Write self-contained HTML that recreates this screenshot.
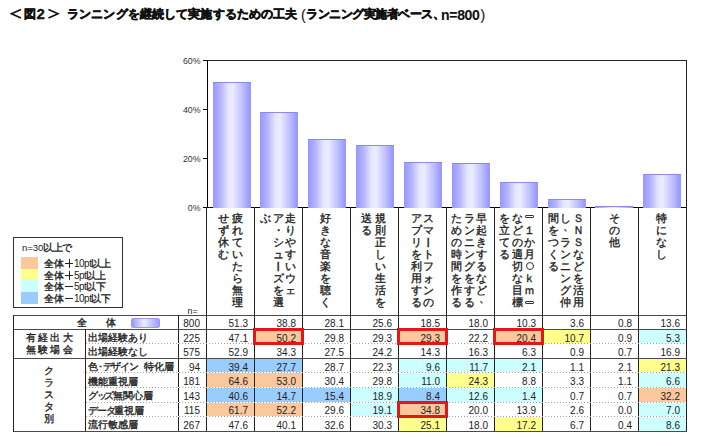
<!DOCTYPE html>
<html><head><meta charset="utf-8">
<style>
*{margin:0;padding:0;box-sizing:border-box}
html,body{width:711px;height:446px;overflow:hidden;background:#fff}
body{position:relative;font-family:"Liberation Sans",sans-serif;color:#222}
i{font-style:normal;display:inline-block;text-align:center;overflow:visible;-webkit-text-stroke:0.35px currentColor}
.a{position:absolute}
.t{position:absolute;top:7px;font-size:12px;line-height:14px;font-weight:bold;color:#111;white-space:nowrap;-webkit-text-stroke:0.35px #111}
.t i{-webkit-text-stroke:0.55px #111}
.tn{font-size:14px;line-height:14px;top:7.5px;letter-spacing:-0.3px;-webkit-text-stroke:0.1px #111}
.yl{position:absolute;font-size:8.8px;color:#333;text-align:right;width:30px;line-height:8px}
.bar{position:absolute;width:38px;background:linear-gradient(90deg,#9898ff 0%,#b0b0ff 18%,#e4e4ff 40%,#ececff 52%,#c4c4ff 75%,#9c9cff 95%,#9898ff 100%);border-top:1px solid #8a8aee}
.vl{position:absolute;width:1px;background:#222}
.hl{position:absolute;height:1px;background:#4a4a4a}
.dl{position:absolute;height:1px;background-color:#fff;background-image:linear-gradient(90deg,#a0a0a0 1px,transparent 1px);background-size:3px 1px}
.vc{position:absolute;width:12px;font-size:10.8px;line-height:12px;text-align:center;color:#222;white-space:nowrap}
.vc i{width:12px;height:12px;display:block;position:relative}
.cell{position:absolute;font-size:10px;text-align:right;padding-right:6px;color:#222;white-space:nowrap}
.lab{position:absolute;font-size:10px;line-height:14px;color:#222;white-space:nowrap}
.rb{position:absolute;border:3px solid #e01818}
</style></head><body>

<svg class="a" style="left:10px;top:8px" width="13" height="12"><path d="M11 1.6 L1.5 5.8 L11 10" fill="none" stroke="#111" stroke-width="1.6"/></svg>
<div class="t" style="left:23.5px"><i style="width:11.5px">図</i></div>
<div class="t tn" style="left:36.5px;font-size:15px;top:6.5px;-webkit-text-stroke:0.3px #111">2</div>
<svg class="a" style="left:47px;top:8px" width="13" height="12"><path d="M1.5 1.6 L11 5.8 L1.5 10" fill="none" stroke="#111" stroke-width="1.6"/></svg>
<div class="t" style="left:67px"><i style="width:12.14px">ラ</i><i style="width:12.14px">ン</i><i style="width:12.14px">ニ</i><i style="width:12.14px">ン</i><i style="width:12.14px">グ</i><i style="width:12.14px">を</i><i style="width:12.14px">継</i><i style="width:12.14px">続</i><i style="width:12.14px">し</i><i style="width:12.14px">て</i><i style="width:12.14px">実</i><i style="width:12.14px">施</i><i style="width:12.14px">す</i><i style="width:12.14px">る</i><i style="width:12.14px">た</i><i style="width:12.14px">め</i><i style="width:12.14px">の</i><i style="width:12.14px">工</i><i style="width:12.14px">夫</i></div>
<div class="t tn" style="left:301px;font-weight:normal">(</div>
<div class="t" style="left:306px"><i style="width:11.50px">ラ</i><i style="width:11.50px">ン</i><i style="width:11.50px">ニ</i><i style="width:11.50px">ン</i><i style="width:11.50px">グ</i><i style="width:11.50px">実</i><i style="width:11.50px">施</i><i style="width:11.50px">者</i><i style="width:11.50px">ベ</i><i style="width:11.50px">ー</i><i style="width:11.50px">ス</i><i style="width:5.75px">、</i></div>
<div class="t tn" style="left:441px">n=800<span style="font-weight:normal;margin-left:1px">)</span></div>
<div class="yl" style="left:170.5px;top:57.0px">60%</div>
<div class="hl" style="left:203px;top:60px;width:4px;background:#000"></div>
<div class="yl" style="left:170.5px;top:106.0px">40%</div>
<div class="hl" style="left:203px;top:109px;width:4px;background:#000"></div>
<div class="yl" style="left:170.5px;top:155.0px">20%</div>
<div class="hl" style="left:203px;top:158px;width:4px;background:#000"></div>
<div class="yl" style="left:170.5px;top:204.0px">0%</div>
<div class="hl" style="left:203px;top:207px;width:4px;background:#000"></div>
<div class="a" style="left:207px;top:60px;width:480px;height:148px;border:1px solid #222;border-bottom-color:#000;border-left-color:#000"></div>
<div class="bar" style="left:212.6px;top:81.8px;height:126.2px"></div>
<div class="bar" style="left:260.4px;top:112.4px;height:95.6px"></div>
<div class="bar" style="left:308.3px;top:138.7px;height:69.3px"></div>
<div class="bar" style="left:356.1px;top:144.8px;height:63.2px"></div>
<div class="bar" style="left:404.0px;top:162.2px;height:45.8px"></div>
<div class="bar" style="left:451.9px;top:163.4px;height:44.6px"></div>
<div class="bar" style="left:499.7px;top:182.3px;height:25.7px"></div>
<div class="bar" style="left:547.5px;top:198.7px;height:9.3px"></div>
<div class="bar" style="left:595.4px;top:205.5px;height:2.5px"></div>
<div class="bar" style="left:643.2px;top:174.2px;height:33.8px"></div>
<div class="vl" style="left:206px;top:207px;height:224px"></div>
<div class="vl" style="left:254px;top:207px;height:224px"></div>
<div class="vl" style="left:302px;top:207px;height:224px"></div>
<div class="vl" style="left:350px;top:207px;height:224px"></div>
<div class="vl" style="left:398px;top:207px;height:224px"></div>
<div class="vl" style="left:446px;top:207px;height:224px"></div>
<div class="vl" style="left:494px;top:207px;height:224px"></div>
<div class="vl" style="left:542px;top:207px;height:224px"></div>
<div class="vl" style="left:590px;top:207px;height:224px"></div>
<div class="vl" style="left:638px;top:207px;height:224px"></div>
<div class="vl" style="left:686px;top:207px;height:224px"></div>
<div class="vc" style="left:231.0px;top:211.8px"><i>疲</i><i>れ</i><i>て</i><i>い</i><i>た</i><i>ら</i><i>無</i><i>理</i></div>
<div class="vc" style="left:217.5px;top:211.8px"><i>せ</i><i>ず</i><i>休</i><i>む</i></div>
<div class="vc" style="left:284.0px;top:211.8px"><i>走</i><i>り</i><i>や</i><i>す</i><i>い</i><i>ウ</i><i>ェ</i></div>
<div class="vc" style="left:272.2px;top:211.8px"><i>ア</i><i>・</i><i>シ</i><i>ュ</i><i style="transform:rotate(90deg)">ー</i><i>ズ</i><i>を</i><i>選</i></div>
<div class="vc" style="left:259.8px;top:211.8px"><i>ぶ</i></div>
<div class="vc" style="left:319.5px;top:211.8px"><i>好</i><i>き</i><i>な</i><i>音</i><i>楽</i><i>を</i><i>聴</i><i>く</i></div>
<div class="vc" style="left:374.2px;top:211.8px"><i>規</i><i>則</i><i>正</i><i>し</i><i>い</i><i>生</i><i>活</i><i>を</i></div>
<div class="vc" style="left:360.6px;top:211.8px"><i>送</i><i>る</i></div>
<div class="vc" style="left:422.3px;top:211.8px"><i>ス</i><i>マ</i><i style="transform:rotate(90deg)">ー</i><i>ト</i><i>フ</i><i>ォ</i><i>ン</i><i>の</i></div>
<div class="vc" style="left:410.0px;top:211.8px"><i>ア</i><i>プ</i><i>リ</i><i>を</i><i>利</i><i>用</i><i>す</i><i>る</i></div>
<div class="vc" style="left:475.8px;top:211.8px"><i>早</i><i>起</i><i>き</i><i>す</i><i>る</i><i>な</i><i>ど</i><i style="transform:translate(3px,-4px)">、</i></div>
<div class="vc" style="left:463.3px;top:211.8px"><i>ラ</i><i>ン</i><i>ニ</i><i>ン</i><i>グ</i><i>を</i><i>す</i><i>る</i></div>
<div class="vc" style="left:450.8px;top:211.8px"><i>た</i><i>め</i><i>の</i><i>時</i><i>間</i><i>を</i><i>作</i><i>る</i></div>
<div class="vc" style="left:523.5px;top:211.8px"><i><b style="position:absolute;left:1.5px;top:3.5px;width:9px;height:3px;border:1px solid #333;border-radius:1px"></b></i><i>１</i><i>か</i><i>月</i><i><b style="position:absolute;left:2px;top:2px;width:8px;height:8px;border:1px solid #333;border-radius:50%"></b></i><i>ｋ</i><i>ｍ</i><i><b style="position:absolute;left:1.5px;top:5.5px;width:9px;height:3px;border:1px solid #333;border-radius:1px"></b></i></div>
<div class="vc" style="left:511.0px;top:211.8px"><i>な</i><i>ど</i><i>の</i><i>適</i><i>切</i><i>な</i><i>目</i><i>標</i></div>
<div class="vc" style="left:498.8px;top:211.8px"><i>を</i><i>立</i><i>て</i><i>る</i></div>
<div class="vc" style="left:572.0px;top:211.8px"><i>Ｓ</i><i>Ｎ</i><i>Ｓ</i><i>な</i><i>ど</i><i>を</i><i>活</i><i>用</i></div>
<div class="vc" style="left:559.5px;top:211.8px"><i>し</i><i style="transform:translate(3px,-4px)">、</i><i>ラ</i><i>ン</i><i>ニ</i><i>ン</i><i>グ</i><i>仲</i></div>
<div class="vc" style="left:547.0px;top:211.8px"><i>間</i><i>を</i><i>つ</i><i>く</i><i>る</i></div>
<div class="vc" style="left:608.0px;top:211.8px"><i>そ</i><i>の</i><i>他</i></div>
<div class="vc" style="left:655.7px;top:211.8px"><i>特</i><i>に</i><i>な</i><i>し</i></div>
<div class="a" style="left:13px;top:237px;width:110px;height:71px;border:1px solid #333"></div>
<div class="lab" style="left:22px;top:241px;font-size:9.5px">n=30<i style="width:9.50px">以</i><i style="width:9.50px">上</i><i style="width:9.50px">で</i></div>
<div class="a" style="left:21px;top:257.0px;width:17px;height:11.7px;background:#fcc89b"></div>
<div class="lab" style="left:44px;top:257px;font-size:10px;line-height:13px"><i style="width:10.00px">全</i><i style="width:10.00px">体</i><span style="display:inline-block;position:relative;width:9.5px;height:8.5px;margin-left:0.5px;vertical-align:-0.5px"><b style="position:absolute;left:0px;top:4px;width:8px;height:1px;background:#222"></b><b style="position:absolute;left:4px;top:0px;width:1px;height:9px;background:#222"></b></span><span style="font-size:10px;letter-spacing:-0.5px">10pt</span><i style="width:9.50px">以</i><i style="width:9.50px">上</i></div>
<div class="a" style="left:21px;top:268.7px;width:17px;height:11.7px;background:#ffff8c"></div>
<div class="lab" style="left:44px;top:269px;font-size:10px;line-height:13px"><i style="width:10.00px">全</i><i style="width:10.00px">体</i><span style="display:inline-block;position:relative;width:9.5px;height:8.5px;margin-left:0.5px;vertical-align:-0.5px"><b style="position:absolute;left:0px;top:4px;width:8px;height:1px;background:#222"></b><b style="position:absolute;left:4px;top:0px;width:1px;height:9px;background:#222"></b></span><span style="font-size:10px;letter-spacing:-0.5px">5pt</span><i style="width:9.50px">以</i><i style="width:9.50px">上</i></div>
<div class="a" style="left:21px;top:280.4px;width:17px;height:11.7px;background:#ccffff"></div>
<div class="lab" style="left:44px;top:280px;font-size:10px;line-height:13px"><i style="width:10.00px">全</i><i style="width:10.00px">体</i><span style="display:inline-block;position:relative;width:9.5px;height:8.5px;margin-left:0.5px;vertical-align:-0.5px"><b style="position:absolute;left:0px;top:4px;width:8px;height:1px;background:#222"></b></span><span style="font-size:10px;letter-spacing:-0.5px">5pt</span><i style="width:9.50px">以</i><i style="width:9.50px">下</i></div>
<div class="a" style="left:21px;top:292.1px;width:17px;height:11.7px;background:#99ccff"></div>
<div class="lab" style="left:44px;top:292px;font-size:10px;line-height:13px"><i style="width:10.00px">全</i><i style="width:10.00px">体</i><span style="display:inline-block;position:relative;width:9.5px;height:8.5px;margin-left:0.5px;vertical-align:-0.5px"><b style="position:absolute;left:0px;top:4px;width:8px;height:1px;background:#222"></b></span><span style="font-size:10px;letter-spacing:-0.5px">10pt</span><i style="width:9.50px">以</i><i style="width:9.50px">下</i></div>
<div class="lab" style="left:187.5px;top:306px;font-size:8.8px;line-height:10px">n=</div>
<div class="hl" style="left:13px;top:315px;width:674px"></div>
<div class="hl" style="left:13px;top:329px;width:674px"></div>
<div class="hl" style="left:13px;top:358px;width:674px"></div>
<div class="hl" style="left:13px;top:431px;width:674px"></div>
<div class="vl" style="left:13px;top:315px;height:117px"></div>
<div class="vl" style="left:85px;top:329px;height:102px"></div>
<div class="vl" style="left:178px;top:315px;height:116px"></div>
<div class="cell" style="left:179px;top:317.0px;width:27px;height:14px;line-height:14px;padding-right:6px">800</div>
<div class="cell" style="left:207px;top:317.0px;width:47px;height:14px;line-height:14px">51.3</div>
<div class="cell" style="left:255px;top:317.0px;width:47px;height:14px;line-height:14px">38.8</div>
<div class="cell" style="left:303px;top:317.0px;width:47px;height:14px;line-height:14px">28.1</div>
<div class="cell" style="left:351px;top:317.0px;width:47px;height:14px;line-height:14px">25.6</div>
<div class="cell" style="left:399px;top:317.0px;width:47px;height:14px;line-height:14px">18.5</div>
<div class="cell" style="left:447px;top:317.0px;width:47px;height:14px;line-height:14px">18.0</div>
<div class="cell" style="left:495px;top:317.0px;width:47px;height:14px;line-height:14px">10.3</div>
<div class="cell" style="left:543px;top:317.0px;width:47px;height:14px;line-height:14px">3.6</div>
<div class="cell" style="left:591px;top:317.0px;width:47px;height:14px;line-height:14px">0.8</div>
<div class="cell" style="left:639px;top:317.0px;width:47px;height:14px;line-height:14px">13.6</div>
<div class="cell" style="left:179px;top:331.54px;width:27px;height:14px;line-height:14px;padding-right:6px">225</div>
<div class="cell" style="left:207px;top:331.54px;width:47px;height:14px;line-height:14px">47.1</div>
<div class="a" style="left:255px;top:330px;width:47px;height:13px;background:#fcc89b"></div>
<div class="cell" style="left:255px;top:331.54px;width:47px;height:14px;line-height:14px">50.2</div>
<div class="cell" style="left:303px;top:331.54px;width:47px;height:14px;line-height:14px">29.8</div>
<div class="cell" style="left:351px;top:331.54px;width:47px;height:14px;line-height:14px">29.3</div>
<div class="a" style="left:399px;top:330px;width:47px;height:13px;background:#fcc89b"></div>
<div class="cell" style="left:399px;top:331.54px;width:47px;height:14px;line-height:14px">29.3</div>
<div class="cell" style="left:447px;top:331.54px;width:47px;height:14px;line-height:14px">22.2</div>
<div class="a" style="left:495px;top:330px;width:47px;height:13px;background:#fcc89b"></div>
<div class="cell" style="left:495px;top:331.54px;width:47px;height:14px;line-height:14px">20.4</div>
<div class="a" style="left:543px;top:330px;width:47px;height:13px;background:#ffff8c"></div>
<div class="cell" style="left:543px;top:331.54px;width:47px;height:14px;line-height:14px">10.7</div>
<div class="cell" style="left:591px;top:331.54px;width:47px;height:14px;line-height:14px">0.9</div>
<div class="a" style="left:639px;top:330px;width:47px;height:13px;background:#ccffff"></div>
<div class="cell" style="left:639px;top:331.54px;width:47px;height:14px;line-height:14px">5.3</div>
<div class="cell" style="left:179px;top:346.08px;width:27px;height:14px;line-height:14px;padding-right:6px">575</div>
<div class="cell" style="left:207px;top:346.08px;width:47px;height:14px;line-height:14px">52.9</div>
<div class="cell" style="left:255px;top:346.08px;width:47px;height:14px;line-height:14px">34.3</div>
<div class="cell" style="left:303px;top:346.08px;width:47px;height:14px;line-height:14px">27.5</div>
<div class="cell" style="left:351px;top:346.08px;width:47px;height:14px;line-height:14px">24.2</div>
<div class="cell" style="left:399px;top:346.08px;width:47px;height:14px;line-height:14px">14.3</div>
<div class="cell" style="left:447px;top:346.08px;width:47px;height:14px;line-height:14px">16.3</div>
<div class="cell" style="left:495px;top:346.08px;width:47px;height:14px;line-height:14px">6.3</div>
<div class="cell" style="left:543px;top:346.08px;width:47px;height:14px;line-height:14px">0.9</div>
<div class="cell" style="left:591px;top:346.08px;width:47px;height:14px;line-height:14px">0.7</div>
<div class="cell" style="left:639px;top:346.08px;width:47px;height:14px;line-height:14px">16.9</div>
<div class="cell" style="left:179px;top:360.62px;width:27px;height:14px;line-height:14px;padding-right:6px">94</div>
<div class="a" style="left:207px;top:359px;width:47px;height:13px;background:#99ccff"></div>
<div class="cell" style="left:207px;top:360.62px;width:47px;height:14px;line-height:14px">39.4</div>
<div class="a" style="left:255px;top:359px;width:47px;height:13px;background:#99ccff"></div>
<div class="cell" style="left:255px;top:360.62px;width:47px;height:14px;line-height:14px">27.7</div>
<div class="cell" style="left:303px;top:360.62px;width:47px;height:14px;line-height:14px">28.7</div>
<div class="cell" style="left:351px;top:360.62px;width:47px;height:14px;line-height:14px">22.3</div>
<div class="a" style="left:399px;top:359px;width:47px;height:13px;background:#ccffff"></div>
<div class="cell" style="left:399px;top:360.62px;width:47px;height:14px;line-height:14px">9.6</div>
<div class="a" style="left:447px;top:359px;width:47px;height:13px;background:#ccffff"></div>
<div class="cell" style="left:447px;top:360.62px;width:47px;height:14px;line-height:14px">11.7</div>
<div class="a" style="left:495px;top:359px;width:47px;height:13px;background:#ccffff"></div>
<div class="cell" style="left:495px;top:360.62px;width:47px;height:14px;line-height:14px">2.1</div>
<div class="cell" style="left:543px;top:360.62px;width:47px;height:14px;line-height:14px">1.1</div>
<div class="cell" style="left:591px;top:360.62px;width:47px;height:14px;line-height:14px">2.1</div>
<div class="a" style="left:639px;top:359px;width:47px;height:13px;background:#ffff8c"></div>
<div class="cell" style="left:639px;top:360.62px;width:47px;height:14px;line-height:14px">21.3</div>
<div class="cell" style="left:179px;top:375.16px;width:27px;height:14px;line-height:14px;padding-right:6px">181</div>
<div class="a" style="left:207px;top:373px;width:47px;height:14px;background:#fcc89b"></div>
<div class="cell" style="left:207px;top:375.16px;width:47px;height:14px;line-height:14px">64.6</div>
<div class="a" style="left:255px;top:373px;width:47px;height:14px;background:#fcc89b"></div>
<div class="cell" style="left:255px;top:375.16px;width:47px;height:14px;line-height:14px">53.0</div>
<div class="cell" style="left:303px;top:375.16px;width:47px;height:14px;line-height:14px">30.4</div>
<div class="cell" style="left:351px;top:375.16px;width:47px;height:14px;line-height:14px">29.8</div>
<div class="a" style="left:399px;top:373px;width:47px;height:14px;background:#ccffff"></div>
<div class="cell" style="left:399px;top:375.16px;width:47px;height:14px;line-height:14px">11.0</div>
<div class="a" style="left:447px;top:373px;width:47px;height:14px;background:#ffff8c"></div>
<div class="cell" style="left:447px;top:375.16px;width:47px;height:14px;line-height:14px">24.3</div>
<div class="cell" style="left:495px;top:375.16px;width:47px;height:14px;line-height:14px">8.8</div>
<div class="cell" style="left:543px;top:375.16px;width:47px;height:14px;line-height:14px">3.3</div>
<div class="cell" style="left:591px;top:375.16px;width:47px;height:14px;line-height:14px">1.1</div>
<div class="a" style="left:639px;top:373px;width:47px;height:14px;background:#ccffff"></div>
<div class="cell" style="left:639px;top:375.16px;width:47px;height:14px;line-height:14px">6.6</div>
<div class="cell" style="left:179px;top:389.7px;width:27px;height:14px;line-height:14px;padding-right:6px">143</div>
<div class="a" style="left:207px;top:388px;width:47px;height:14px;background:#99ccff"></div>
<div class="cell" style="left:207px;top:389.7px;width:47px;height:14px;line-height:14px">40.6</div>
<div class="a" style="left:255px;top:388px;width:47px;height:14px;background:#99ccff"></div>
<div class="cell" style="left:255px;top:389.7px;width:47px;height:14px;line-height:14px">14.7</div>
<div class="a" style="left:303px;top:388px;width:47px;height:14px;background:#99ccff"></div>
<div class="cell" style="left:303px;top:389.7px;width:47px;height:14px;line-height:14px">15.4</div>
<div class="a" style="left:351px;top:388px;width:47px;height:14px;background:#ccffff"></div>
<div class="cell" style="left:351px;top:389.7px;width:47px;height:14px;line-height:14px">18.9</div>
<div class="a" style="left:399px;top:388px;width:47px;height:14px;background:#99ccff"></div>
<div class="cell" style="left:399px;top:389.7px;width:47px;height:14px;line-height:14px">8.4</div>
<div class="a" style="left:447px;top:388px;width:47px;height:14px;background:#ccffff"></div>
<div class="cell" style="left:447px;top:389.7px;width:47px;height:14px;line-height:14px">12.6</div>
<div class="a" style="left:495px;top:388px;width:47px;height:14px;background:#ccffff"></div>
<div class="cell" style="left:495px;top:389.7px;width:47px;height:14px;line-height:14px">1.4</div>
<div class="cell" style="left:543px;top:389.7px;width:47px;height:14px;line-height:14px">0.7</div>
<div class="cell" style="left:591px;top:389.7px;width:47px;height:14px;line-height:14px">0.7</div>
<div class="a" style="left:639px;top:388px;width:47px;height:14px;background:#fcc89b"></div>
<div class="cell" style="left:639px;top:389.7px;width:47px;height:14px;line-height:14px">32.2</div>
<div class="cell" style="left:179px;top:404.24px;width:27px;height:14px;line-height:14px;padding-right:6px">115</div>
<div class="a" style="left:207px;top:403px;width:47px;height:13px;background:#fcc89b"></div>
<div class="cell" style="left:207px;top:404.24px;width:47px;height:14px;line-height:14px">61.7</div>
<div class="a" style="left:255px;top:403px;width:47px;height:13px;background:#fcc89b"></div>
<div class="cell" style="left:255px;top:404.24px;width:47px;height:14px;line-height:14px">52.2</div>
<div class="cell" style="left:303px;top:404.24px;width:47px;height:14px;line-height:14px">29.6</div>
<div class="a" style="left:351px;top:403px;width:47px;height:13px;background:#ccffff"></div>
<div class="cell" style="left:351px;top:404.24px;width:47px;height:14px;line-height:14px">19.1</div>
<div class="a" style="left:399px;top:403px;width:47px;height:13px;background:#fcc89b"></div>
<div class="cell" style="left:399px;top:404.24px;width:47px;height:14px;line-height:14px">34.8</div>
<div class="cell" style="left:447px;top:404.24px;width:47px;height:14px;line-height:14px">20.0</div>
<div class="cell" style="left:495px;top:404.24px;width:47px;height:14px;line-height:14px">13.9</div>
<div class="cell" style="left:543px;top:404.24px;width:47px;height:14px;line-height:14px">2.6</div>
<div class="cell" style="left:591px;top:404.24px;width:47px;height:14px;line-height:14px">0.0</div>
<div class="a" style="left:639px;top:403px;width:47px;height:13px;background:#ccffff"></div>
<div class="cell" style="left:639px;top:404.24px;width:47px;height:14px;line-height:14px">7.0</div>
<div class="cell" style="left:179px;top:418.78px;width:27px;height:14px;line-height:14px;padding-right:6px">267</div>
<div class="cell" style="left:207px;top:418.78px;width:47px;height:14px;line-height:14px">47.6</div>
<div class="cell" style="left:255px;top:418.78px;width:47px;height:14px;line-height:14px">40.1</div>
<div class="cell" style="left:303px;top:418.78px;width:47px;height:14px;line-height:14px">32.6</div>
<div class="cell" style="left:351px;top:418.78px;width:47px;height:14px;line-height:14px">30.3</div>
<div class="a" style="left:399px;top:417px;width:47px;height:14px;background:#ffff8c"></div>
<div class="cell" style="left:399px;top:418.78px;width:47px;height:14px;line-height:14px">25.1</div>
<div class="cell" style="left:447px;top:418.78px;width:47px;height:14px;line-height:14px">18.0</div>
<div class="a" style="left:495px;top:417px;width:47px;height:14px;background:#ffff8c"></div>
<div class="cell" style="left:495px;top:418.78px;width:47px;height:14px;line-height:14px">17.2</div>
<div class="cell" style="left:543px;top:418.78px;width:47px;height:14px;line-height:14px">6.7</div>
<div class="cell" style="left:591px;top:418.78px;width:47px;height:14px;line-height:14px">0.4</div>
<div class="a" style="left:639px;top:417px;width:47px;height:14px;background:#ccffff"></div>
<div class="cell" style="left:639px;top:418.78px;width:47px;height:14px;line-height:14px">8.6</div>
<div class="dl" style="left:86px;top:343px;width:600px"></div>
<div class="dl" style="left:86px;top:372px;width:600px"></div>
<div class="dl" style="left:86px;top:387px;width:600px"></div>
<div class="dl" style="left:86px;top:402px;width:600px"></div>
<div class="dl" style="left:86px;top:416px;width:600px"></div>
<div class="rb" style="left:253px;top:328px;width:51px;height:17px"></div>
<div class="rb" style="left:397px;top:328px;width:51px;height:17px"></div>
<div class="rb" style="left:493px;top:328px;width:51px;height:17px"></div>
<div class="rb" style="left:397px;top:401px;width:51px;height:17px"></div>
<div class="lab" style="left:76.5px;top:316px"><i style="width:10.00px">全</i></div>
<div class="lab" style="left:106px;top:316px"><i style="width:10.00px">体</i></div>
<div class="a" style="left:131px;top:318px;width:29px;height:10px;border-radius:2px;border:1px solid #9a9aee;background:linear-gradient(90deg,#9898ff,#ececff 45%,#9c9cff)"></div>
<div class="lab" style="left:24.5px;top:332.2px;line-height:11.8px"><i style="width:12.40px">有</i><i style="width:12.40px">経</i><i style="width:12.40px">出</i><i style="width:12.40px">大</i><br><i style="width:12.40px">無</i><i style="width:12.40px">験</i><i style="width:12.40px">場</i><i style="width:12.40px">会</i></div>
<div class="vc" style="left:43px;top:365px;font-size:9.8px"><i>ク</i><i>ラ</i><i>ス</i><i>タ</i><i>別</i></div>
<div class="lab" style="left:88px;top:330.94px;line-height:14px"><i style="width:10px">出</i><i style="width:10px">場</i><i style="width:10px">経</i><i style="width:10px">験</i><i style="width:10px">あ</i><i style="width:10px">り</i></div>
<div class="lab" style="left:88px;top:345.48px;line-height:14px"><i style="width:10px">出</i><i style="width:10px">場</i><i style="width:10px">経</i><i style="width:10px">験</i><i style="width:10px">な</i><i style="width:10px">し</i></div>
<div class="lab" style="left:88px;top:360.02px;line-height:14px"><i style="width:10px">色</i><i style="width:4.5px">･</i><i style="width:8.8px">デ</i><i style="width:8.8px">ザ</i><i style="width:8.8px">イ</i><i style="width:8.8px">ン</i><i style="width:6px"> </i><i style="width:10px">特</i><i style="width:10px">化</i><i style="width:10px">層</i></div>
<div class="lab" style="left:88px;top:374.56px;line-height:14px"><i style="width:10px">機</i><i style="width:10px">能</i><i style="width:10px">重</i><i style="width:10px">視</i><i style="width:10px">層</i></div>
<div class="lab" style="left:88px;top:389.10px;line-height:14px"><i style="width:8.8px">グ</i><i style="width:7px">ッ</i><i style="width:8.8px">ズ</i><i style="width:10px">無</i><i style="width:10px">関</i><i style="width:10px">心</i><i style="width:10px">層</i></div>
<div class="lab" style="left:88px;top:403.64px;line-height:14px"><i style="width:8.8px">デ</i><i style="width:8.8px">ー</i><i style="width:8.8px">タ</i><i style="width:10px">重</i><i style="width:10px">視</i><i style="width:10px">層</i></div>
<div class="lab" style="left:88px;top:418.18px;line-height:14px"><i style="width:10px">流</i><i style="width:10px">行</i><i style="width:10px">敏</i><i style="width:10px">感</i><i style="width:10px">層</i></div>
</body></html>
